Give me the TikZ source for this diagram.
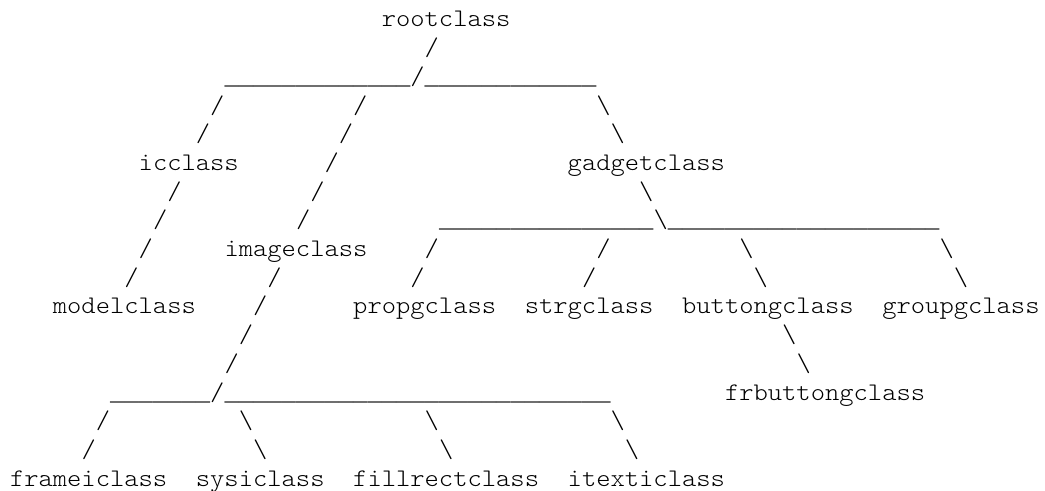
\documentclass[tikz,border=0pt]{standalone}
\usepackage{fontspec}
\newfontfamily\asciifont[FakeStretch=1.075]{lmmonolt10-regular.otf}
\newfontfamily\linefont{Liberation Mono}
\newcommand\unds[1]{{\linefont\fontsize{17.875pt}{21pt}\selectfont\count255=0 \loop\_\advance\count255 by 1 \ifnum\count255<#1\repeat}}
\newcommand\bs{\textbackslash}
\tikzset{
  tok/.style={anchor=base west, inner sep=0pt, outer sep=0pt, text=black,
    font=\asciifont\fontsize{19pt}{21pt}\selectfont},
}
% token at (line, column)
\newcommand\tok[4]{\node[tok] (#1) at ({7.5pt+#3*10.725pt},{-20.25pt-(#2-1)*21.525pt}) {#4};}
\begin{document}
\begin{tikzpicture}
\fill[white] (0,0) rectangle (783.75pt,-368.25pt);
\useasboundingbox (0,0) rectangle (783.75pt,-368.25pt);
% line 1-3
\tok{root}{1}{26}{rootclass}
\tok{l2a}{2}{29}{/}
\tok{l3a}{3}{15}{\unds{13}}
\tok{l3b}{3}{28}{/}
\tok{l3c}{3}{29}{\unds{12}}
% line 4-5
\tok{l4a}{4}{14}{/}
\tok{l4b}{4}{24}{/}
\tok{l4c}{4}{41}{\bs}
\tok{l5a}{5}{13}{/}
\tok{l5b}{5}{23}{/}
\tok{l5c}{5}{42}{\bs}
% line 6
\tok{ic}{6}{9}{icclass}
\tok{l6a}{6}{22}{/}
\tok{gadget}{6}{39}{gadgetclass}
% line 7
\tok{l7a}{7}{11}{/}
\tok{l7b}{7}{21}{/}
\tok{l7c}{7}{44}{\bs}
% line 8
\tok{l8a}{8}{10}{/}
\tok{l8b}{8}{20}{/}
\tok{l8c}{8}{30}{\unds{15}}
\tok{l8d}{8}{45}{\bs}
\tok{l8e}{8}{46}{\unds{19}}
% line 9
\tok{l9a}{9}{9}{/}
\tok{image}{9}{15}{imageclass}
\tok{l9b}{9}{29}{/}
\tok{l9c}{9}{41}{/}
\tok{l9d}{9}{51}{\bs}
\tok{l9e}{9}{65}{\bs}
% line 10
\tok{l10a}{10}{8}{/}
\tok{l10b}{10}{18}{/}
\tok{l10c}{10}{28}{/}
\tok{l10d}{10}{40}{/}
\tok{l10e}{10}{52}{\bs}
\tok{l10f}{10}{66}{\bs}
% line 11
\tok{model}{11}{3}{modelclass}
\tok{l11a}{11}{17}{/}
\tok{propg}{11}{24}{propgclass}
\tok{strg}{11}{36}{strgclass}
\tok{button}{11}{47}{buttongclass}
\tok{groupg}{11}{61}{groupgclass}
% line 12-13
\tok{l12a}{12}{16}{/}
\tok{l12b}{12}{54}{\bs}
\tok{l13a}{13}{15}{/}
\tok{l13b}{13}{55}{\bs}
% line 14
\tok{l14a}{14}{7}{\unds{7}}
\tok{l14b}{14}{14}{/}
\tok{l14c}{14}{15}{\unds{27}}
\tok{frbutton}{14}{50}{frbuttongclass}
% line 15-16
\tok{l15a}{15}{6}{/}
\tok{l15b}{15}{16}{\bs}
\tok{l15c}{15}{29}{\bs}
\tok{l15d}{15}{42}{\bs}
\tok{l16a}{16}{5}{/}
\tok{l16b}{16}{17}{\bs}
\tok{l16c}{16}{30}{\bs}
\tok{l16d}{16}{43}{\bs}
% line 17
\tok{framei}{17}{0}{frameiclass}
\tok{sysi}{17}{13}{sysiclass}
\tok{fillrect}{17}{24}{fillrectclass}
\tok{itexti}{17}{39}{itexticlass}
\end{tikzpicture}
\end{document}
